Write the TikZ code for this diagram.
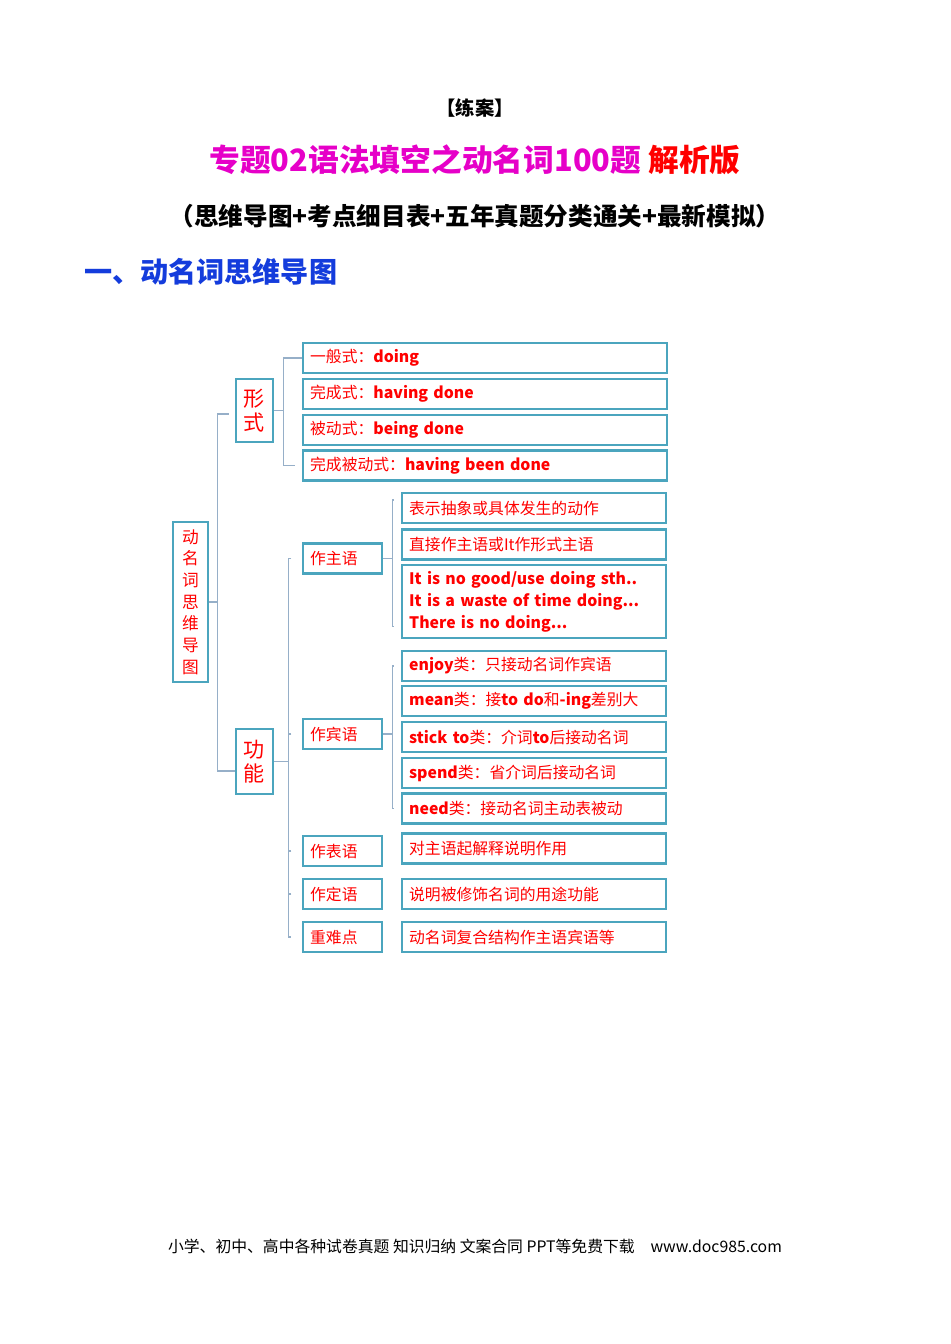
\documentclass[tikz,border=0pt]{standalone}
\usepackage{fontspec}
\setmainfont{Noto Sans CJK SC}
\usetikzlibrary{positioning}
\definecolor{boxblue}{RGB}{75,165,190}
\definecolor{linkgray}{RGB}{150,175,200}
\definecolor{titlepink}{RGB}{230,0,200}
\definecolor{headblue}{RGB}{20,60,220}
\tikzset{
  box/.style={draw=boxblue,line width=1.3pt,rectangle,anchor=west,inner xsep=4pt,inner ysep=0pt,
    align=left,text=red,font=\fontsize{9}{11}\selectfont},
  wide/.style={box,text width=7.0cm,minimum height=0.6cm},
  mid/.style={box,text width=5.0cm,minimum height=0.6cm},
  small/.style={box,text width=1.3cm,minimum height=0.6cm},
  link/.style={draw=linkgray,line width=0.6pt}
}
\begin{document}
\begin{tikzpicture}[x=0.02cm,y=-0.02cm]
  \useasboundingbox (0,0) rectangle (950,1344);
  % header
  \node (tag) at (475,108) {\fontsize{11}{13}\selectfont\bfseries 【练案】};
  \node (title) at (475,160) {\fontsize{17.5}{20}\selectfont\bfseries\color{titlepink}专题02语法填空之动名词100题 \color{red}解析版};
  \node (sub) at (475,216) {\fontsize{14}{16}\selectfont\bfseries （思维导图+考点细目表+五年真题分类通关+最新模拟）};
  \node[anchor=west] (head) at (78,272) {\fontsize{16}{19}\selectfont\bfseries\color{headblue}一、动名词思维导图};

  % tree
  \node[box,anchor=center,minimum width=0.7cm,minimum height=3.2cm,align=center,inner xsep=0pt,
    font=\fontsize{9.5}{12.3}\selectfont] (root) at (190.5,602) {动\\名\\词\\思\\维\\导\\图};
  \node[box,anchor=center,minimum width=0.74cm,minimum height=1.26cm,align=center,inner xsep=0pt,
    font=\fontsize{12}{14}\selectfont] (form) at (254.5,410.5) {形\\式};
  \node[box,anchor=center,minimum width=0.74cm,minimum height=1.3cm,align=center,inner xsep=0pt,
    font=\fontsize{12}{14}\selectfont] (func) at (254.5,761.5) {功\\能};

  \node[wide] (f1) at (302,358) {一般式：\textbf{doing}};
  \node[wide] (f2) at (302,394) {完成式：\textbf{having done}};
  \node[wide] (f3) at (302,430) {被动式：\textbf{being done}};
  \node[wide] (f4) at (302,465.5) {完成被动式：\textbf{having been done}};

  \node[small] (subj) at (302,558.5) {作主语};
  \node[mid] (s1) at (401,508) {表示抽象或具体发生的动作};
  \node[mid] (s2) at (401,544.5) {直接作主语或It作形式主语};
  \node[mid,minimum height=1.46cm,font=\fontsize{9}{12.5}\selectfont\bfseries] (s3) at (401,601.5)
    {It is no good/use doing sth..\\It is a waste of time doing...\\There is no doing...};

  \node[small] (obj) at (302,734) {作宾语};
  \node[mid] (o1) at (401,666) {\textbf{enjoy}类：只接动名词作宾语};
  \node[mid] (o2) at (401,701) {\textbf{mean}类：接\textbf{to do}和\textbf{-ing}差别大};
  \node[mid] (o3) at (401,737) {\textbf{stick to}类：介词\textbf{to}后接动名词};
  \node[mid] (o4) at (401,773) {\textbf{spend}类：省介词后接动名词};
  \node[mid] (o5) at (401,808.5) {\textbf{need}类：接动名词主动表被动};

  \node[small] (pred) at (302,851) {作表语};
  \node[mid] (p1) at (401,848.5) {对主语起解释说明作用};
  \node[small] (attr) at (302,894) {作定语};
  \node[mid] (a1) at (401,894) {说明被修饰名词的用途功能};
  \node[small] (key) at (302,937) {重难点};
  \node[mid] (k1) at (401,937) {动名词复合结构作主语宾语等};

  % brackets
  \draw[link] (root.east) -- ++(8,0) coordinate (rb);
  \draw[link] (form.west |- 0,414) ++(-6,0) -| (rb) |- (func.west |- 0,771) ++(-6,0);
  \draw[link] (form.east) -- ++(9,0) coordinate (fb);
  \draw[link] (f1.west) ++(-4,0) -| (fb) |- ([xshift=-4]f4.west);
  \draw[link] ([xshift=-4]f1.west) -- (f1.west);
  \draw[link] (func.east) -- ++(14,0) coordinate (gb);
  \draw[link] ([xshift=-6]subj.west) -| (gb) |- ([xshift=-6]key.west);
  \draw[link] ([xshift=-6]obj.west) -- (gb |- obj.west);
  \draw[link] ([xshift=-6]pred.west) -- (gb |- pred.west);
  \draw[link] ([xshift=-6]attr.west) -- (gb |- attr.west);
  \draw[link] (subj.east) -- ++(9,0) coordinate (sb);
  \draw[link] ([xshift=-4]s1.west) ++(0,-8) -| (sb) |- ([xshift=-4,yshift=-0.5cm]s3.west);
  \draw[link] (obj.east) -- ++(9,0) coordinate (ob);
  \draw[link] ([xshift=-4]o1.west) -| (ob) |- ([xshift=-4]o5.west);

  % footer
  \node (foot) at (475,1246) {\fontsize{9}{11}\selectfont 小学、初中、高中各种试卷真题\ 知识归纳\ 文案合同\ PPT等免费下载\quad www.doc985.com};
\end{tikzpicture}
\end{document}
